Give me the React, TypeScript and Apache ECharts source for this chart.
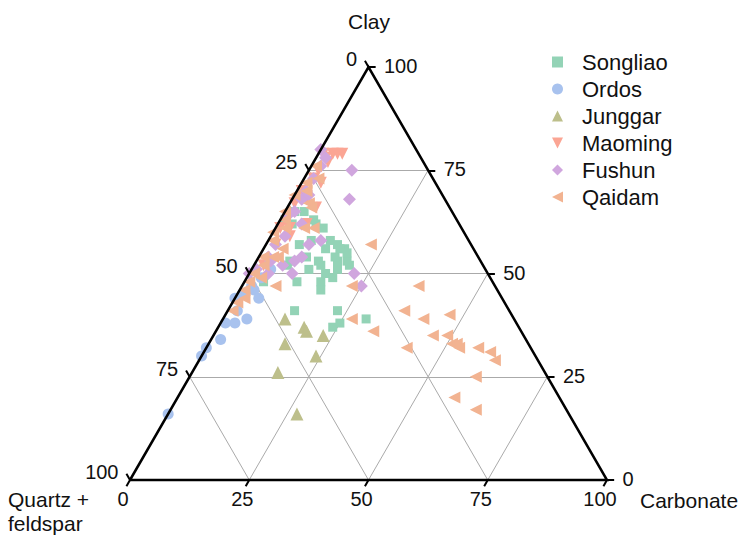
import { useEffect, useRef } from "react";
import * as echarts from "echarts";

// Each point: [clay, carbonate] in %; quartz + feldspar = 100 - clay - carbonate
const songliao: [number, number][] = [
  [63, 1], [62, 3], [63, 7], [61, 10], [58, 13], [57, 15], [58, 9], [54, 10], [53, 13], [53, 17],
  [56, 17], [53, 19], [51, 18], [52, 7], [52, 14], [52, 20], [50, 16], [49, 18], [48, 11], [48, 16],
  [48, 4], [41, 14], [41, 23], [37, 24], [38, 25], [39, 30], [62, 8], [65, 2], [65, 4], [57, 7],
  [56, 13], [54, 16], [56, 16], [55, 18], [51, 12], [53, 7], [46, 17],
];
const ordos: [number, number][] = [
  [46, 3], [44, 5], [39, 5], [38, 3], [38, 1], [34, 2], [32, 0], [30, 0], [16, 0], [47, 2],
  [45, 1], [44, 0], [49, 3], [41, 2], [51, 4],
];
const junggar: [number, number][] = [
  [39, 13], [37, 18], [36, 19], [35, 23], [33, 16], [30, 24], [26, 18], [16, 27],
];
const maoming: [number, number][] = [
  [79, 1], [79, 3], [79, 4], [79, 5], [77, 3], [78, 2], [73, 2], [72, 4], [66, 6], [62, 6],
  [61, 3], [59, 4], [61, 1], [68, 3], [75, 2], [70, 1], [57, 2], [52, 2], [67, 1],
];
const fushun: [number, number][] = [
  [80, 0], [78, 2], [76, 2], [73, 2], [70, 2], [75, 9], [68, 12], [68, 2], [69, 3], [64, 1],
  [65, 2], [59, 3], [62, 5], [57, 9], [58, 11], [57, 2], [54, 2], [53, 3], [52, 6], [50, 9],
  [50, 4], [53, 8], [51, 1], [50, 0], [50, 22], [47, 25], [54, 9],
];
const qaidam: [number, number][] = [
  [57, 22], [47, 37], [41, 37], [39, 42], [40, 47], [35, 46], [35, 49], [33, 51], [33, 52], [32, 53],
  [32, 57], [31, 60], [29, 62], [32, 42], [36, 33], [39, 27], [47, 23], [25, 60], [20, 58], [17, 64],
  [43, 1], [46, 1], [48, 1], [54, 1], [47, 7], [54, 4], [72, 1], [67, 4], [61, 8], [61, 6],
  [73, 3], [61, 2], [56, 4], [54, 3], [60, 0], [69, 0], [66, 5], [65, 0], [76, 1], [70, 2],
  [63, 1], [58, 1], [52, 2], [50, 1], [49, 3], [44, 2], [41, 1],
];

const tickValues = [0, 25, 50, 75, 100];
const gridValues = [25, 50, 75];

const K = Math.sqrt(3) / 2;
const toXY = (clay: number, carb: number): [number, number] => [carb + clay / 2, clay * K];

const FONT = "'Liberation Sans', Arial, sans-serif";
const TEXT_COLOR = "#000000";

const DOWN_TRI = "path://M0,0L10,0L5,10Z";
const LEFT_TRI = "path://M10,0L10,10L0,5Z";

const groups = [
  { name: "Songliao", data: songliao, symbol: "rect", size: 9, rotate: 0, color: "#93d3b6", icon: "rect" },
  { name: "Ordos", data: ordos, symbol: "circle", size: 11, rotate: 0, color: "#a8c2ee", icon: "circle" },
  { name: "Junggar", data: junggar, symbol: "triangle", size: 13, rotate: 0, color: "#bdbf8b", icon: "triangle" },
  { name: "Maoming", data: maoming, symbol: "triangle", size: 12, rotate: 180, color: "#fba594", icon: DOWN_TRI },
  { name: "Fushun", data: fushun, symbol: "diamond", size: 13, rotate: 0, color: "#d0a6de", icon: "diamond" },
  { name: "Qaidam", data: qaidam, symbol: "triangle", size: 12, rotate: 90, color: "#f2b391", icon: LEFT_TRI },
];

export default function App() {
  const ref = useRef<HTMLDivElement>(null);
  useEffect(() => {
    if (!ref.current) return;
    const chart = echarts.init(ref.current, undefined, { renderer: "svg" });

    const gridSegs: any[] = [];
    gridValues.forEach((t) => {
      gridSegs.push({ coords: [toXY(t, 0), toXY(t, 100 - t)] });
      gridSegs.push({ coords: [toXY(0, t), toXY(100 - t, t)] });
      gridSegs.push({ coords: [toXY(0, 100 - t), toXY(100 - t, 0)] });
    });

    const L = 1.5;
    const tickSegs: any[] = [];
    const leftLabels: any[] = [];
    const rightLabels: any[] = [];
    const bottomLabels: any[] = [];
    tickValues.forEach((v) => {
      const pl = toXY(100 - v, 0);
      tickSegs.push({ coords: [pl, [pl[0] - 0.5 * L, pl[1] + K * L]] });
      leftLabels.push({ value: pl, name: String(v) });
      const pr = toXY(v, 100 - v);
      tickSegs.push({ coords: [pr, [pr[0] + L, pr[1]]] });
      rightLabels.push({ value: pr, name: String(v) });
      const pb = toXY(0, v);
      tickSegs.push({ coords: [pb, [pb[0] - 0.5 * L, pb[1] - K * L]] });
      bottomLabels.push({ value: pb, name: String(v) });
    });

    const labelSeries = (data: any[], position: string, distance: number, offset: number[]) => ({
      type: "scatter",
      data,
      symbolSize: 1,
      silent: true,
      clip: false,
      z: 5,
      itemStyle: { color: "rgba(0,0,0,0)" },
      label: {
        show: true,
        position,
        distance,
        offset,
        formatter: (p: any) => p.name,
        fontSize: 20,
        fontFamily: FONT,
        color: "#111111",
        opacity: 1,
      },
    });

    const option: any = {
      animation: false,
      backgroundColor: "#ffffff",
      grid: { left: 130, top: 67, width: 477, height: 413 },
      xAxis: { type: "value", min: 0, max: 100, show: false },
      yAxis: { type: "value", min: 0, max: 100 * K, show: false },
      legend: {
        orient: "vertical",
        left: 547,
        top: 46,
        itemWidth: 11,
        itemHeight: 11,
        itemGap: 5,
        data: groups.map((g) => ({ name: g.name, icon: g.icon })),
        textStyle: {
          fontSize: 22,
          lineHeight: 22,
          fontFamily: FONT,
          color: "#111111",
          padding: [0, 0, 0, 14],
        },
      },
      graphic: [
        { type: "text", x: 369, y: 21, style: { text: "Clay", font: `21px ${FONT}`, fill: "#111111", align: "center", verticalAlign: "middle" } },
        { type: "text", x: 640, y: 500, style: { text: "Carbonate", font: `21px ${FONT}`, fill: "#111111", align: "left", verticalAlign: "middle" } },
        { type: "text", x: 8, y: 499, style: { text: "Quartz +", font: `21px ${FONT}`, fill: "#111111", align: "left", verticalAlign: "middle" } },
        { type: "text", x: 8, y: 523, style: { text: "feldspar", font: `21px ${FONT}`, fill: "#111111", align: "left", verticalAlign: "middle" } },
      ],
      series: [
        {
          type: "lines",
          coordinateSystem: "cartesian2d",
          data: gridSegs,
          silent: true,
          clip: false,
          z: 1,
          lineStyle: { color: "#aaaaaa", width: 1, opacity: 1 },
        },
        ...groups.map((g) => ({
          type: "scatter",
          name: g.name,
          data: g.data.map(([clay, carb]) => toXY(clay, carb)),
          symbol: g.symbol,
          symbolSize: g.size,
          symbolRotate: g.rotate,
          clip: false,
          z: 2,
          itemStyle: { color: g.color, opacity: 1 },
        })),
        {
          type: "lines",
          coordinateSystem: "cartesian2d",
          polyline: true,
          data: [{ coords: [toXY(0, 0), toXY(0, 100), toXY(100, 0), toXY(0, 0)] }],
          silent: true,
          clip: false,
          z: 4,
          lineStyle: { color: TEXT_COLOR, width: 2.5, opacity: 1, join: "miter" },
        },
        {
          type: "lines",
          coordinateSystem: "cartesian2d",
          data: tickSegs,
          silent: true,
          clip: false,
          z: 4,
          lineStyle: { color: TEXT_COLOR, width: 2, opacity: 1 },
        },
        labelSeries(leftLabels, "left", 11, [0, -8]),
        labelSeries(rightLabels, "right", 15, [0, -1]),
        labelSeries(bottomLabels, "bottom", 8, [-7, 0]),
      ],
    };
    chart.setOption(option);
    return () => chart.dispose();
  }, []);
  return (
    <div
      ref={ref}
      style={{ position: "absolute", left: 0, top: 0, width: 742, height: 538, background: "#fff" }}
    />
  );
}
